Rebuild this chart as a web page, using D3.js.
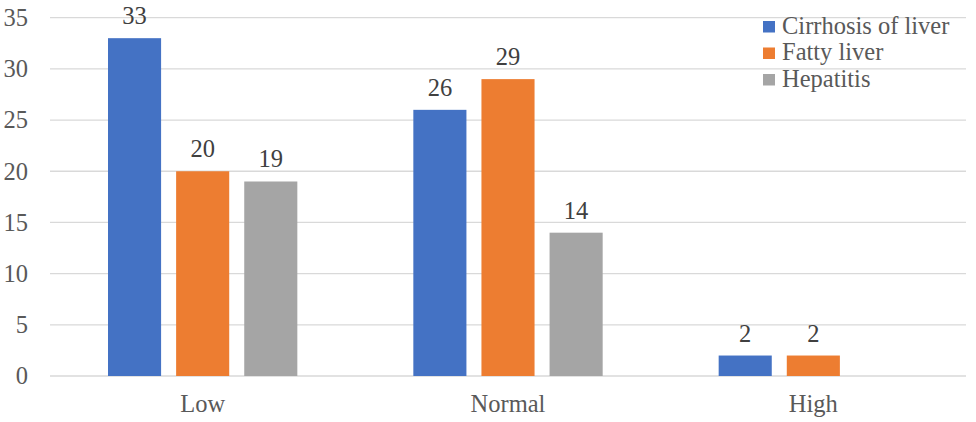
<!DOCTYPE html>
<html>
<head>
<meta charset="utf-8">
<script src="https://cdn.jsdelivr.net/npm/d3@7"></script>
</head>
<body style="margin:0; background:#fff">
<div id="chart"></div>
<script>
// Chart data
var categories = ["Low", "Normal", "High"];
var seriesNames = ["Cirrhosis of liver", "Fatty liver", "Hepatitis"];
var cirrhosis = [33, 26, 2];
var fatty = [20, 29, 2];
var hepatitis = [19, 14, null];
var yTicks = [0, 5, 10, 15, 20, 25, 30, 35];

var colors = ["#4472C4", "#ED7D31", "#A5A5A5"];
var seriesValues = [cirrhosis, fatty, hepatitis];
var fontFamily = "Times New Roman";
var fontSize = "24.5px";

var svgWidth = 976;
var svgHeight = 422;
var margin = { top: 17.7, right: 10, bottom: 46, left: 50 };
var width = svgWidth - margin.left - margin.right;
var height = svgHeight - margin.top - margin.bottom;

var svg = d3.select("#chart")
    .append("svg")
    .attr("width", svgWidth)
    .attr("height", svgHeight);

var chartGroup = svg.append("g")
    .attr("transform", `translate(${margin.left}, ${margin.top})`);

// scales
var x0 = d3.scaleBand()
    .domain(categories)
    .range([0, width])
    .paddingInner(0)
    .paddingOuter(0);

var x1 = d3.scaleBand()
    .domain(seriesNames)
    .range([58, x0.bandwidth() - 58])
    .paddingInner(15 / 68)
    .paddingOuter(0);

var y = d3.scaleLinear()
    .domain([0, 35])
    .range([height, 0]);

// gridlines
chartGroup.append("g")
    .selectAll("line")
    .data(yTicks)
    .enter()
    .append("line")
    .attr("x1", 0)
    .attr("x2", width)
    .attr("y1", d => y(d))
    .attr("y2", d => y(d))
    .attr("stroke", "#D9D9D9")
    .attr("stroke-width", 1.3);

// y axis labels
var leftAxis = d3.axisLeft(y).tickValues(yTicks).tickSize(0).tickPadding(22);
var yAxis = chartGroup.append("g").call(leftAxis);
yAxis.select(".domain").remove();
yAxis.selectAll("text")
    .attr("font-family", fontFamily)
    .attr("font-size", fontSize)
    .attr("fill", "#595959");

// x axis labels
var bottomAxis = d3.axisBottom(x0).tickSize(0).tickPadding(19);
var xAxis = chartGroup.append("g")
    .attr("transform", `translate(0, ${height})`)
    .call(bottomAxis);
xAxis.select(".domain").remove();
xAxis.selectAll("text")
    .attr("font-family", fontFamily)
    .attr("font-size", fontSize)
    .attr("fill", "#595959");

// bars
var barData = [];
categories.forEach(function(cat, i) {
    seriesNames.forEach(function(s, j) {
        if (seriesValues[j][i] !== null) {
            barData.push({ cat: cat, series: s, value: seriesValues[j][i], color: colors[j] });
        }
    });
});

var groups = chartGroup.selectAll(".bar")
    .data(barData)
    .enter()
    .append("g");

groups.append("rect")
    .attr("x", d => x0(d.cat) + x1(d.series))
    .attr("y", d => y(d.value))
    .attr("width", x1.bandwidth())
    .attr("height", d => height - y(d.value))
    .attr("fill", d => d.color);

groups.append("text")
    .attr("x", d => x0(d.cat) + x1(d.series) + x1.bandwidth() / 2)
    .attr("y", d => y(d.value) - 14)
    .attr("text-anchor", "middle")
    .attr("font-family", fontFamily)
    .attr("font-size", fontSize)
    .attr("fill", "#404040")
    .text(d => d.value);

// legend
var legend = svg.append("g")
    .attr("transform", "translate(763, 21)");

var legendItems = legend.selectAll("g")
    .data(seriesNames)
    .enter()
    .append("g")
    .attr("transform", (d, i) => `translate(0, ${i * 26.5})`);

legendItems.append("rect")
    .attr("width", 12)
    .attr("height", 11.5)
    .attr("fill", (d, i) => colors[i]);

legendItems.append("text")
    .attr("x", 19)
    .attr("y", 12.5)
    .attr("font-family", fontFamily)
    .attr("font-size", fontSize)
    .attr("fill", "#595959")
    .text(d => d);
</script>
</body>
</html>
